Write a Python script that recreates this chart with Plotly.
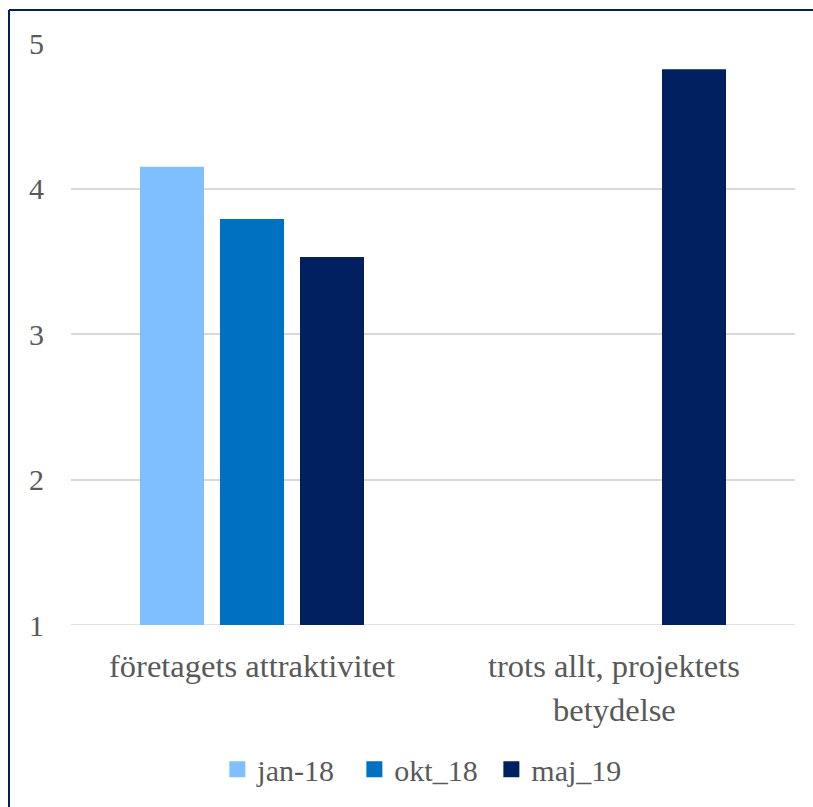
import plotly.graph_objects as go

categories = ["företagets attraktivitet", "trots allt, projektets betydelse"]
category_lines = [["företagets attraktivitet"], ["trots allt, projektets", "betydelse"]]
series_names = ["jan-18", "okt_18", "maj_19"]
jan_18 = [4.15, None]
okt_18 = [3.79, None]
maj_19 = [3.53, 4.82]
series_values = [jan_18, okt_18, maj_19]
series_colors = ["#7FBFFF", "#0070C0", "#002060"]
y_ticks = [1, 2, 3, 4, 5]

FONT = "Liberation Serif"
TEXT_COLOR = "#595959"
GRID_COLOR = "#D9D9D9"

fig = go.Figure()
for name, vals, col in zip(series_names, series_values, series_colors):
    fig.add_trace(go.Bar(
        x=categories, y=vals, name=name, showlegend=False,
        marker=dict(color=col, line=dict(width=0)),
    ))
# legend entries with larger square swatches
for name, col in zip(series_names, series_colors):
    fig.add_trace(go.Scatter(
        x=[None], y=[None], mode="markers", name=name,
        marker=dict(symbol="square", size=18, color=col),
    ))

# category labels, line by line
for cat, lines in zip(categories, category_lines):
    for i, line in enumerate(lines):
        fig.add_annotation(
            x=cat, xref="x", y=-0.07 - i * 0.076, yref="paper",
            text=line, showarrow=False,
            font=dict(family=FONT, size=32.5, color=TEXT_COLOR),
            xanchor="center", yanchor="middle",
        )

# baseline gridline at the axis floor
fig.add_shape(type="line", xref="paper", yref="y", x0=0, x1=1,
              y0=y_ticks[0], y1=y_ticks[0], layer="below",
              line=dict(color=GRID_COLOR, width=1.5))

# chart frame (left and top edges)
L, R, T, B = 71, 18, 43, 180
W, H = 813, 807
pw, ph = W - L - R, H - T - B
fx = (9 - L) / pw
fy = (ph - (10 - T)) / ph
fig.add_shape(type="line", xref="paper", yref="paper", x0=fx, x1=1.2, y0=fy, y1=fy,
              line=dict(color="#002060", width=2))
fig.add_shape(type="line", xref="paper", yref="paper", x0=fx, x1=fx, y0=fy, y1=-0.5,
              line=dict(color="#002060", width=2))

fig.update_layout(
    width=W, height=H,
    margin=dict(l=L, r=R, t=T, b=B),
    paper_bgcolor="white", plot_bgcolor="white",
    barmode="group", bargap=0.337, bargroupgap=0.2,
    font=dict(family=FONT, size=30, color=TEXT_COLOR),
    showlegend=True,
    legend=dict(orientation="h", x=0.486, xanchor="center", y=-0.248, yanchor="middle",
                font=dict(family=FONT, size=30, color=TEXT_COLOR),
                itemsizing="trace", traceorder="normal", entrywidth=92),
    xaxis=dict(showticklabels=False, showgrid=False, zeroline=False, showline=False,
               ticks=""),
    yaxis=dict(range=[1, 5], tickvals=y_ticks,
               showgrid=True, gridcolor=GRID_COLOR, gridwidth=1.5,
               zeroline=False, showline=False, ticks="",
               ticklabelstandoff=26,
               tickfont=dict(family=FONT, size=30, color=TEXT_COLOR)),
)

fig.write_html("out.html")
